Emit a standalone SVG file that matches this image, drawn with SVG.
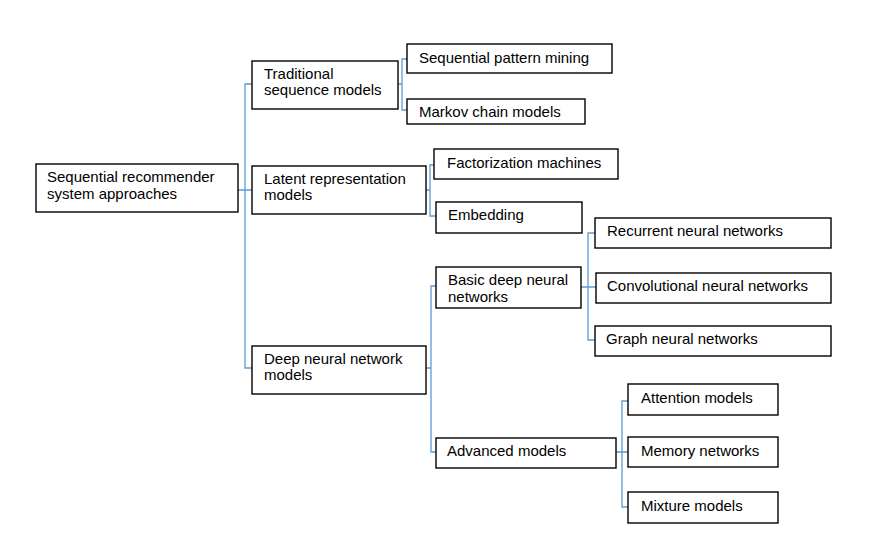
<svg xmlns="http://www.w3.org/2000/svg" width="880" height="539" viewBox="0 0 880 539">
<style>
.box{fill:#fff;stroke:#000;stroke-width:1.4}
.t{font-family:"Liberation Sans",Arial,sans-serif;font-size:15px;fill:#000}
.c{fill:none;stroke:#5B9BD5;stroke-width:1.3}
</style>
<rect width="880" height="539" fill="#fff"/>
<g id="connectors">
<path class="c" d="M238,190H252M245,190V84H252M245,190V368H252"/>
<path class="c" d="M398,84H402M402,84V59H407M402,84V110H407"/>
<path class="c" d="M426,190H430M430,190V165H434M430,190V216H436"/>
<path class="c" d="M426,368H431M431,368V286H436M431,368V452H436"/>
<path class="c" d="M581,287H596M588,287V233H595M588,287V340H595"/>
<path class="c" d="M616,452H628M622,452V401H628M622,452V507H628"/>
</g>
<g id="root"><rect class="box" x="36" y="164" width="202" height="48"/><text class="t" x="47" y="182">Sequential recommender</text><text class="t" x="47" y="198.5">system approaches</text></g>
<g id="traditional"><rect class="box" x="252" y="61" width="146" height="48"/><text class="t" x="264" y="78.5">Traditional</text><text class="t" x="264" y="95">sequence models</text></g>
<g id="latent"><rect class="box" x="252" y="166" width="174" height="48"/><text class="t" x="264" y="183.5">Latent representation</text><text class="t" x="264" y="200">models</text></g>
<g id="deep"><rect class="box" x="252" y="346" width="174" height="48"/><text class="t" x="264" y="363.5">Deep neural network</text><text class="t" x="264" y="380">models</text></g>
<g id="spm"><rect class="box" x="407" y="44" width="205" height="29"/><text class="t" x="419" y="63">Sequential pattern mining</text></g>
<g id="markov"><rect class="box" x="407" y="99" width="178" height="25"/><text class="t" x="419" y="117">Markov chain models</text></g>
<g id="fm"><rect class="box" x="434" y="149" width="184" height="30"/><text class="t" x="447" y="168">Factorization machines</text></g>
<g id="embedding"><rect class="box" x="436" y="202" width="146" height="31"/><text class="t" x="448" y="220">Embedding</text></g>
<g id="basic"><rect class="box" x="436" y="267" width="145" height="41"/><text class="t" x="448" y="285">Basic deep neural</text><text class="t" x="448" y="301.5">networks</text></g>
<g id="advanced"><rect class="box" x="436" y="438" width="180" height="30"/><text class="t" x="447" y="456">Advanced models</text></g>
<g id="rnn"><rect class="box" x="595" y="218" width="236" height="30"/><text class="t" x="607" y="236">Recurrent neural networks</text></g>
<g id="cnn"><rect class="box" x="596" y="273" width="235" height="30"/><text class="t" x="607" y="291">Convolutional neural networks</text></g>
<g id="gnn"><rect class="box" x="595" y="326" width="236" height="30"/><text class="t" x="606" y="344">Graph neural networks</text></g>
<g id="attention"><rect class="box" x="628" y="384" width="150" height="31"/><text class="t" x="641" y="403">Attention models</text></g>
<g id="memory"><rect class="box" x="628" y="437" width="150" height="30"/><text class="t" x="641" y="456">Memory networks</text></g>
<g id="mixture"><rect class="box" x="628" y="492" width="150" height="31"/><text class="t" x="641" y="511">Mixture models</text></g>
</svg>
